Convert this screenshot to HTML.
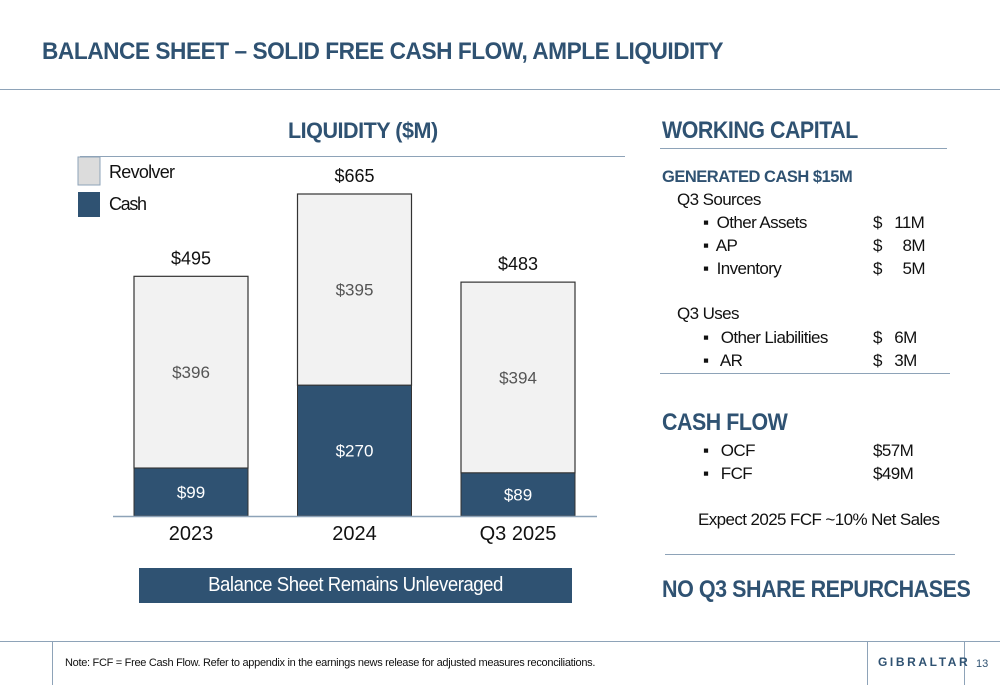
<!DOCTYPE html>
<html><head><meta charset="utf-8"><style>
body{margin:0;width:1000px;height:685px;background:#fff;font-family:"Liberation Sans",sans-serif;position:relative;overflow:hidden}
.a{position:absolute;white-space:nowrap}
.navy{color:#2f5272}
.hl{position:absolute;height:1px;background:#8ea3b8}
.r{font-size:17px;color:#111;letter-spacing:-0.6px}
.c{transform:scaleX(0.89);transform-origin:left center}
</style></head><body>
<div class="a navy c" style="left:42px;top:38px;font-size:24px;font-weight:bold;letter-spacing:-0.5px;transform:scaleX(0.945)">BALANCE SHEET – SOLID FREE CASH FLOW, AMPLE LIQUIDITY</div>
<div class="hl" style="left:0;top:89px;width:1000px"></div>

<div class="a navy c" style="left:288px;top:118px;font-size:22px;font-weight:bold;letter-spacing:-0.5px;transform:scaleX(0.98)">LIQUIDITY ($M)</div>
<div class="hl" style="left:80px;top:156px;width:545px"></div>

<svg class="a" style="left:0;top:0" width="640" height="620">
<rect x="78" y="157" width="22" height="28" fill="#dcdcdc" stroke="#8ea3b8"/>
<text x="109" y="178" font-size="18" fill="#111" textLength="66">Revolver</text>
<rect x="78" y="192" width="22" height="25" fill="#2f5272"/>
<text x="109" y="210" font-size="18" fill="#111" textLength="38">Cash</text>
<g id="bars"></g>
<line x1="113" y1="516.5" x2="597" y2="516.5" stroke="#8ea3b8" stroke-width="1.5"/>
</svg>

<div class="a" style="left:139px;top:568px;width:433px;height:35px;background:#2f5272;color:#fff;font-size:20px;text-align:center;line-height:35px;letter-spacing:-0.5px"><span style="display:inline-block;transform:scaleX(0.93)">Balance Sheet Remains Unleveraged</span></div>

<div class="a navy c" style="left:662px;top:117px;font-size:24px;font-weight:bold;letter-spacing:-0.5px">WORKING CAPITAL</div>
<div class="hl" style="left:660px;top:148px;width:287px"></div>
<div class="a navy" style="left:662px;top:167px;font-size:17px;font-weight:bold;letter-spacing:-0.5px;transform:scaleX(0.97);transform-origin:left center">GENERATED CASH $15M</div>
<div class="a r" style="left:677px;top:190px">Q3 Sources</div>
<div class="a r" style="left:703px;top:213px">▪&nbsp; Other Assets</div><div class="a r" style="left:873px;top:213px">$&nbsp;&nbsp; 11M</div>
<div class="a r" style="left:703px;top:236px">▪&nbsp; AP</div><div class="a r" style="left:873px;top:236px">$&nbsp;&nbsp;&nbsp;&nbsp; 8M</div>
<div class="a r" style="left:703px;top:259px">▪&nbsp; Inventory</div><div class="a r" style="left:873px;top:259px">$&nbsp;&nbsp;&nbsp;&nbsp; 5M</div>
<div class="a r" style="left:677px;top:304px">Q3 Uses</div>
<div class="a r" style="left:703px;top:328px">▪&nbsp;&nbsp; Other Liabilities</div><div class="a r" style="left:873px;top:328px">$&nbsp;&nbsp; 6M</div>
<div class="a r" style="left:703px;top:351px">▪&nbsp;&nbsp; AR</div><div class="a r" style="left:873px;top:351px">$&nbsp;&nbsp; 3M</div>
<div class="hl" style="left:660px;top:373px;width:290px"></div>

<div class="a navy c" style="left:662px;top:409px;font-size:24px;font-weight:bold;letter-spacing:-0.5px">CASH FLOW</div>
<div class="a r" style="left:703px;top:441px">▪&nbsp;&nbsp; OCF</div><div class="a r" style="left:873px;top:441px">$57M</div>
<div class="a r" style="left:703px;top:464px">▪&nbsp;&nbsp; FCF</div><div class="a r" style="left:873px;top:464px">$49M</div>
<div class="a r" style="left:698px;top:510px">Expect 2025 FCF ~10% Net Sales</div>
<div class="hl" style="left:665px;top:554px;width:290px"></div>
<div class="a navy c" style="left:662px;top:576px;font-size:24px;font-weight:bold;letter-spacing:-0.5px;transform:scaleX(0.895)">NO Q3 SHARE REPURCHASES</div>

<div class="hl" style="left:0;top:641px;width:1000px"></div>
<div class="a" style="left:52px;top:641px;width:1px;height:44px;background:#8ea3b8"></div>
<div class="a" style="left:867px;top:641px;width:1px;height:44px;background:#8ea3b8"></div>
<div class="a" style="left:964px;top:641px;width:1px;height:44px;background:#8ea3b8"></div>
<div class="a" style="left:65px;top:657px;font-size:11px;color:#111;letter-spacing:-0.3px">Note: FCF = Free Cash Flow. Refer to appendix in the earnings news release for adjusted measures reconciliations.</div>
<div class="a navy" style="left:878px;top:655px;font-size:12px;font-weight:bold;letter-spacing:2.6px">GIBRALTAR</div>
<div class="a" style="left:976px;top:658px;font-size:11px;color:#2f5272">13</div>

<script>
const categories=["2023","2024","Q3 2025"];
const cash=[99,270,89];
const revolver=[396,395,394];
const totals=[495,665,483];
const NS="http://www.w3.org/2000/svg";
const base=516, scale=322/665, x0=134, step=163.5, bw=114;
function y(v){return base-v*scale;}
function xPos(i){return x0+i*step;}
const g=document.getElementById('bars');
function mk(tag,attrs){const e=document.createElementNS(NS,tag);for(const k in attrs)e.setAttribute(k,attrs[k]);g.appendChild(e);return e;}
categories.forEach((c,i)=>{
  const x=xPos(i);
  const r=mk('rect',{x:x,y:y(cash[i]+revolver[i]),width:bw,height:revolver[i]*scale,fill:'#f2f2f2',stroke:'#333','stroke-width':1.2});
  
  
  const b=mk('rect',{x:x,y:y(cash[i]),width:bw,height:cash[i]*scale,fill:'#2f5272',stroke:'#333','stroke-width':1});
  
  
  const t1=mk('text',{x:x+bw/2,y:y(cash[i]+revolver[i]/2)+6,'text-anchor':'middle','font-size':17,fill:'#555'});
  t1.textContent='$'+revolver[i];
  
  
  const t2=mk('text',{x:x+bw/2,y:y(cash[i]/2)+6,'text-anchor':'middle','font-size':17,fill:'#fff'});
  t2.textContent='$'+cash[i];
  
  
  const t3=mk('text',{x:x+bw/2,y:y(totals[i])-12,'text-anchor':'middle','font-size':18,fill:'#111'});
  t3.textContent='$'+totals[i];
  
  
  const t4=mk('text',{x:x+bw/2,y:540,'text-anchor':'middle','font-size':20,fill:'#111'});
  t4.textContent=c;
  
  
});
</script>
</body></html>
